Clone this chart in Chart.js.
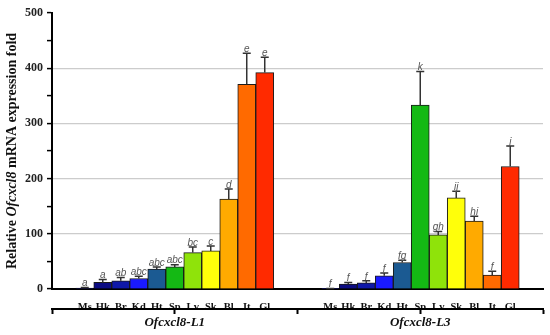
<!DOCTYPE html>
<html><head><meta charset="utf-8">
<script src="https://cdn.jsdelivr.net/npm/chart.js@4.4.1/dist/chart.umd.min.js"></script>
<style>html,body{margin:0;padding:0;background:#fff}</style>
</head><body>
<canvas id="c" width="550" height="335"></canvas>
<script>
// ---- data ----
const tissues = ['Ms','Hk','Br','Kd','Ht','Sp','Lv','Sk','Bl','It','Gl'];
const groups = ['Ofcxcl8-L1','Ofcxcl8-L3'];
const l1Values = [1.5, 12, 15, 19, 36, 40, 66, 69, 163, 371, 392];
const l1Errors = [1, 5, 6, 4, 4, 4, 10, 9, 18, 56, 28];
const l1Letters = ['a','a','ab','abc','abc','abc','bc','c','d','e','e'];
const l3Values = [0.5, 9, 11, 24, 48, 333, 98, 165, 123, 25, 222];
const l3Errors = [0.5, 3, 4, 5, 4, 61, 6, 12, 9, 7, 37];
const l3Letters = ['f','f','f','f','fg','k','gh','ij','hi','f','j'];
const yTicks = [0, 100, 200, 300, 400, 500];
const tissueColors = ['#10107a','#0c0c82','#0f18a8','#1a1aff','#1b5a92','#14b914','#8fe30a','#ffff0a','#ffaa00','#ff6a00','#ff2a00'];

// ---- layout helpers ----
const GROUP_SPAN = 13.64; // x-units per group (1 unit = 1 bar slot)
const pos = (g, i) => g * GROUP_SPAN + (GROUP_SPAN - tissues.length) / 2 + 0.5 + i;

const allValues = [l1Values, l3Values];
const allErrors = [l1Errors, l3Errors];
const allLetters = [l1Letters, l3Letters];
const points = [], colors = [], errs = [], letters = [], xPositions = [];
groups.forEach((g, gi) => tissues.forEach((t, i) => {
  points.push({x: pos(gi, i), y: allValues[gi][i]});
  colors.push(tissueColors[i]);
  errs.push(allErrors[gi][i]);
  letters.push(allLetters[gi][i]);
  xPositions.push(pos(gi, i));
}));

const SERIF = "'Liberation Serif', 'DejaVu Serif', serif";

const errorBars = {
  id: 'errorBars',
  afterDatasetsDraw(chart) {
    const ctx = chart.ctx, xs = chart.scales.x, ys = chart.scales.y;
    ctx.save();
    points.forEach((p, k) => {
      const px = xs.getPixelForValue(p.x);
      const yTop = ys.getPixelForValue(p.y);
      const yCap = ys.getPixelForValue(p.y + errs[k]);
      ctx.strokeStyle = '#333';
      ctx.lineWidth = 1.5;
      ctx.beginPath();
      ctx.moveTo(px, yTop); ctx.lineTo(px, yCap);
      ctx.moveTo(px - 4, yCap); ctx.lineTo(px + 4, yCap);
      ctx.stroke();
      ctx.fillStyle = '#555';
      ctx.font = "italic 10px 'Liberation Sans', Arial, sans-serif";
      ctx.textAlign = 'center';
      ctx.textBaseline = 'bottom';
      ctx.fillText(letters[k], px, yCap + 1);
    });
    ctx.restore();
  }
};

const yTitle = {
  id: 'yTitle',
  afterDraw(chart) {
    const ctx = chart.ctx, a = chart.chartArea;
    const parts = [['Relative ', 'bold'], ['Ofcxcl8', 'italic bold'], [' mRNA expression fold', 'bold']];
    const size = 14;
    ctx.save();
    let total = 0;
    parts.forEach(p => { ctx.font = `${p[1]} ${size}px ${SERIF}`; p.w = ctx.measureText(p[0]).width; total += p.w; });
    ctx.translate(12, (a.top + a.bottom) / 2);
    ctx.rotate(-Math.PI / 2);
    ctx.textBaseline = 'middle';
    ctx.textAlign = 'left';
    ctx.fillStyle = '#111';
    let x = -total / 2;
    parts.forEach(p => { ctx.font = `${p[1]} ${size}px ${SERIF}`; ctx.fillText(p[0], x, 0); x += p.w; });
    ctx.restore();
  }
};

new Chart(document.getElementById('c'), {
  type: 'bar',
  data: {
    datasets: [{
      data: points,
      backgroundColor: colors,
      borderColor: '#1a1a1a',
      borderWidth: 1,
      categoryPercentage: 1,
      barPercentage: 1
    }]
  },
  options: {
    responsive: false,
    animation: false,
    layout: {padding: {top: 13, right: 7, left: 0, bottom: 0}},
    plugins: {legend: {display: false}, tooltip: {enabled: false}},
    scales: {
      x: {
        type: 'linear',
        offset: false,
        min: 0, max: 2 * GROUP_SPAN,
        afterBuildTicks: s => { s.ticks = xPositions.map(v => ({value: v})); },
        afterFit: s => { s.height = 20; },
        grid: {display: false, offset: false},
        border: {display: true, color: '#000', width: 2},
        ticks: {
          autoSkip: false, maxRotation: 0, minRotation: 0, padding: 4,
          color: '#111',
          font: {family: SERIF, weight: 'bold', size: 10.5},
          callback: (v, i) => tissues[i % tissues.length]
        }
      },
      x2: {
        type: 'linear',
        position: 'bottom',
        offset: false,
        min: 0, max: 2 * GROUP_SPAN,
        afterBuildTicks: s => {
          s.ticks = [0, GROUP_SPAN / 2, GROUP_SPAN, GROUP_SPAN * 1.5, GROUP_SPAN * 2].map(v => ({value: v}));
        },
        afterFit: s => { s.height = 26; },
        grid: {drawOnChartArea: false, drawTicks: true, tickLength: 5, color: '#000', tickWidth: 2, offset: false},
        border: {display: true, color: '#000', width: 2},
        ticks: {
          autoSkip: false, maxRotation: 0, minRotation: 0, padding: 1,
          color: '#111',
          font: {family: SERIF, weight: 'bold', style: 'italic', size: 13},
          callback: (v, i) => (i % 2 === 1 ? groups[(i - 1) / 2] : '')
        }
      },
      y: {
        min: yTicks[0], max: yTicks[yTicks.length - 1],
        afterFit: s => { s.width = 52; },
        ticks: {
          stepSize: 50, padding: 4,
          color: '#222',
          font: {family: SERIF, weight: 'bold', size: 12},
          callback: v => (yTicks.includes(v) ? String(v) : '')
        },
        grid: {
          color: c => (c.tick && c.tick.value > 0 && c.tick.value < 500 && c.tick.value % 100 === 0 ? '#cccccc' : 'rgba(0,0,0,0)'),
          lineWidth: 1.2,
          tickColor: '#000',
          tickLength: 5,
          tickWidth: 1.5
        },
        border: {display: true, color: '#000', width: 2}
      }
    }
  },
  plugins: [errorBars, yTitle]
});
</script>
</body></html>
